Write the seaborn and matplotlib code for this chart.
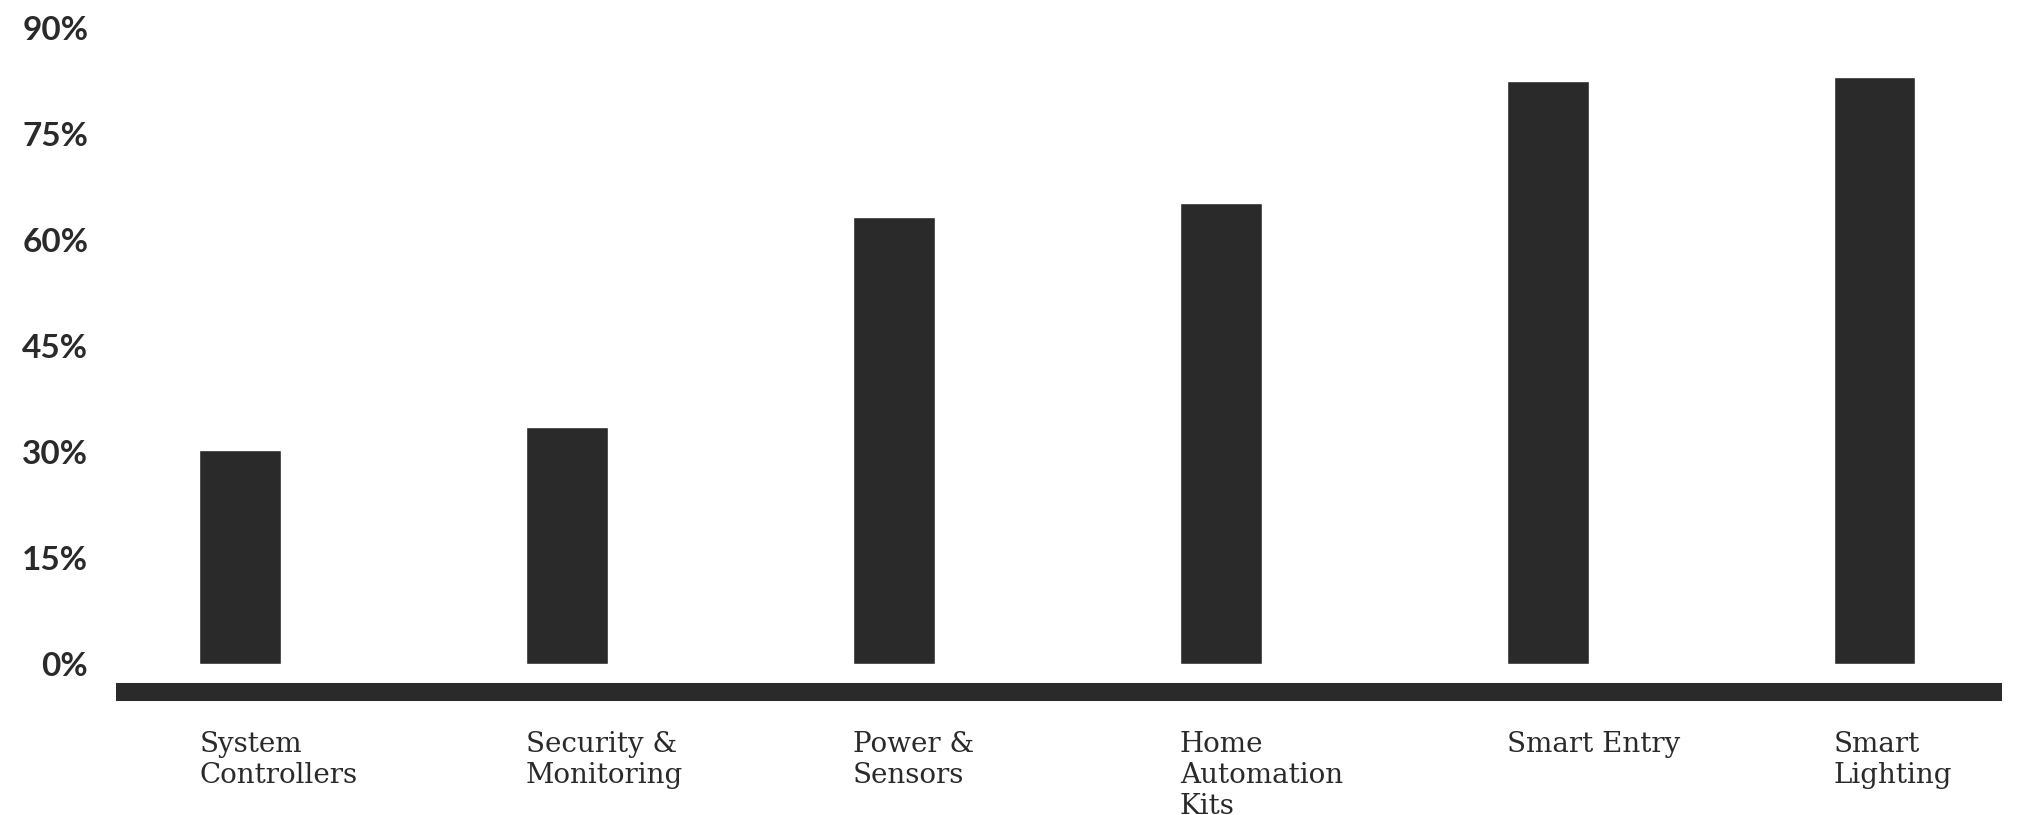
import matplotlib
matplotlib.use("Agg")
import matplotlib.pyplot as plt
import matplotlib.transforms as mtransforms
import seaborn as sns
import pandas as pd

categories = ["System\nControllers", "Security &\nMonitoring", "Power &\nSensors",
              "Home\nAutomation\nKits", "Smart Entry", "Smart\nLighting"]
values = [30.3, 33.5, 63.3, 65.3, 82.5, 83.0]
yticks = [0, 15, 30, 45, 60, 75, 90]
ytick_labels = ["0%", "15%", "30%", "45%", "60%", "75%", "90%"]

dark = "#2a2a2a"
sns.set_theme(style="white")
plt.rcParams['font.family'] = ['DejaVu Sans']

df = pd.DataFrame({"cat": categories, "val": values})

fig = plt.figure(figsize=(20.17, 8.15), dpi=100)
ax = fig.add_axes([116/2017, (815-664)/815, (2002-116)/2017, (664-28)/815])
sns.barplot(data=df, x="cat", y="val", color=dark, width=0.25, saturation=1, ax=ax)

ax.set_xlim(-0.38, 5.39)
ax.set_ylim(0, 90)
ax.set_yticks(yticks)
ax.set_yticklabels(ytick_labels, fontsize=24, fontweight="bold", color=dark,
                   family=["Lato", "DejaVu Sans"])
ax.tick_params(axis="y", length=0, pad=20)
ax.tick_params(axis="x", length=0, pad=28)
ax.set_xlabel("")
ax.set_ylabel("")

for sp in ["top", "right", "left"]:
    ax.spines[sp].set_visible(False)
ax.spines["bottom"].set_position(("outward", 20))
ax.spines["bottom"].set_linewidth(13)
ax.spines["bottom"].set_color(dark)
ax.spines["bottom"].set_capstyle("butt")

offset = mtransforms.ScaledTranslation(-41/100, 0, fig.dpi_scale_trans)
for lab in ax.get_xticklabels():
    lab.set_ha("left")
    lab.set_fontsize(20)
    lab.set_color(dark)
    lab.set_family(["DejaVu Serif"])
    lab.set_linespacing(1.2)
    lab.set_transform(lab.get_transform() + offset)

fig.savefig("out.png", dpi=100, facecolor="white")
